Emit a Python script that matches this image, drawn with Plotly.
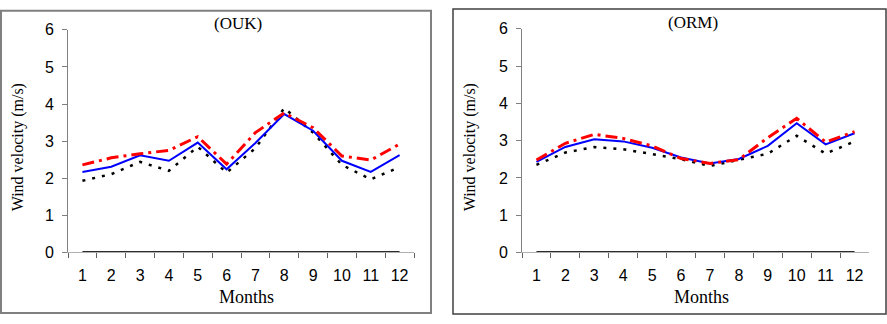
import plotly.graph_objects as go

W, H = 887, 324

months = [str(m) for m in range(1, 13)]
zero_line = [0] * 12

# (OUK) station
ouk_red = [2.36, 2.55, 2.66, 2.75, 3.12, 2.38, 3.23, 3.76, 3.36, 2.60, 2.49, 2.92]
ouk_blue = [2.17, 2.31, 2.62, 2.47, 2.96, 2.24, 2.95, 3.73, 3.28, 2.47, 2.17, 2.62]
ouk_black = [1.93, 2.11, 2.44, 2.20, 2.85, 2.15, 2.81, 3.89, 3.23, 2.36, 1.97, 2.30]

# (ORM) station
orm_red = [2.48, 2.93, 3.17, 3.06, 2.86, 2.52, 2.39, 2.49, 3.08, 3.60, 2.96, 3.24]
orm_blue = [2.43, 2.83, 3.04, 2.98, 2.81, 2.55, 2.39, 2.51, 2.86, 3.47, 2.90, 3.20]
orm_black = [2.35, 2.68, 2.83, 2.77, 2.64, 2.50, 2.32, 2.48, 2.65, 3.13, 2.65, 2.98]

panels = [
    ("(OUK)", ouk_red, ouk_blue, ouk_black),
    ("(ORM)", orm_red, orm_blue, orm_black),
]


def px(x):
    return x / W


def py(y):
    return (H - y) / H


fig = go.Figure()

for i, (name, red, blue, black) in enumerate(panels):
    xa = "x" if i == 0 else "x2"
    ya = "y" if i == 0 else "y2"
    fig.add_trace(go.Scatter(x=months, y=zero_line, mode="lines", xaxis=xa, yaxis=ya,
                             line=dict(color="#2b2b2b", width=3), showlegend=False))
    fig.add_trace(go.Scatter(x=months, y=black, mode="lines", xaxis=xa, yaxis=ya,
                             line=dict(color="black", width=2.5, dash="3px,7px"), showlegend=False))
    fig.add_trace(go.Scatter(x=months, y=blue, mode="lines", xaxis=xa, yaxis=ya,
                             line=dict(color="#0000ff", width=2), showlegend=False))
    fig.add_trace(go.Scatter(x=months, y=red, mode="lines", xaxis=xa, yaxis=ya,
                             line=dict(color="#ff0000", width=3, dash="12px,5px,3px,5px"),
                             showlegend=False))

tick_font = dict(family="Liberation Sans, Arial", size=16, color="black")

xaxis_style = dict(type="category", range=[-0.5, 11.5], tickson="boundaries",
                   ticks="outside", ticklen=5, tickcolor="#606060", ticklabelstandoff=8,
                   showline=True, linecolor="#b0b0b0", linewidth=1,
                   showgrid=False, zeroline=False, tickfont=tick_font, fixedrange=True)
yaxis_style = dict(range=[0, 6], dtick=1, ticks="outside", ticklen=5, tickcolor="#808080",
                   ticklabelstandoff=5,
                   showline=True, linecolor="#808080", linewidth=1, showgrid=False,
                   zeroline=False, tickfont=tick_font, fixedrange=True)

fig.update_layout(
    width=W, height=H,
    margin=dict(l=0, r=0, t=0, b=0),
    paper_bgcolor="white", plot_bgcolor="white",
    xaxis=dict(domain=[px(68), px(414)], anchor="y", **xaxis_style),
    yaxis=dict(domain=[py(258), py(23)], anchor="x", **yaxis_style),
    xaxis2=dict(domain=[px(522), px(869)], anchor="y2", **xaxis_style),
    yaxis2=dict(domain=[py(258), py(22)], anchor="x2", **yaxis_style),
)

# panel frames
fig.add_shape(type="rect", xref="paper", yref="paper",
              x0=px(1), x1=px(431), y0=py(322), y1=py(3),
              line=dict(color="#808080", width=2))
fig.add_shape(type="rect", xref="paper", yref="paper",
              x0=px(453), x1=px(886), y0=py(323), y1=py(1),
              line=dict(color="#404040", width=1.5))

# titles and axis labels
notes = [
    ("(OUK)", 238, 16, 0, 17), ("(ORM)", 693, 15, 0, 17),
    ("Months", 247, 305, 0, 18), ("Months", 701, 305, 0, 18),
    ("Wind velocity (m/s)", 18, 147, -90, 16), ("Wind velocity (m/s)", 470, 147, -90, 16),
]
for text, x, y, ang, size in notes:
    fig.add_annotation(text=text, x=px(x), y=py(y), xref="paper", yref="paper",
                       showarrow=False, textangle=ang,
                       font=dict(family="Liberation Serif, Times New Roman", size=size,
                                 color="black"),
                       xanchor="center", yanchor="middle")

page_fix = ("document.body.style.margin='0px';"
            "document.body.style.overflow='hidden';"
            "document.documentElement.style.overflow='hidden';")
fig.write_html("out.html", post_script=page_fix, config={"displayModeBar": False})
